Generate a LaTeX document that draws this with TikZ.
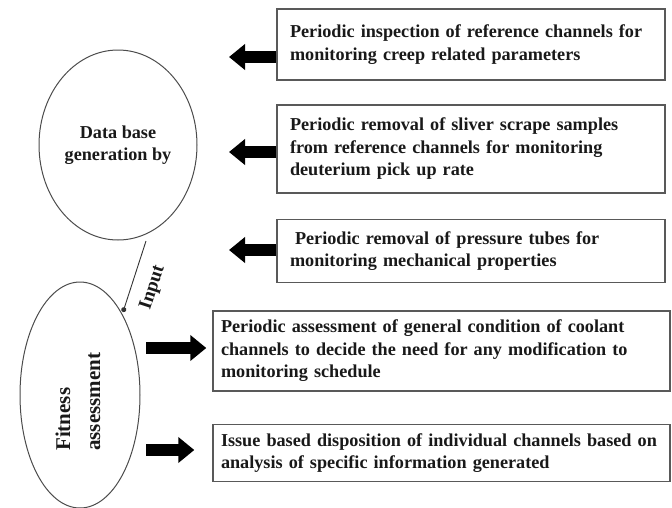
\documentclass[tikz,border=0pt]{standalone}
\usepackage{fontspec}
\setmainfont{Liberation Serif}
\usetikzlibrary{arrows.meta,shapes.geometric}
\begin{document}
\begin{tikzpicture}[x=1pt,y=-1pt,
  txt/.style={font=\fontsize{18.2}{22.5}\selectfont\bfseries, text=black!90},
  box/.style={txt, rectangle, draw=black!65, line width=1.4pt, align=left,
    inner ysep=0pt, anchor=center},
  ell/.style={ellipse, draw=black!70, line width=1pt, inner sep=0pt},
  blockarrow/.style={line width=12pt, black, -{Triangle[length=16pt,width=25pt]}},
  inputline/.style={line width=0.9pt, black!80, -{Circle[length=5pt]}}
]
\useasboundingbox (0,0) rectangle (672,507);

% ellipses
\node[ell, txt, align=center, minimum width=158pt, minimum height=190pt] (db) at (118,145) {Data base\\generation by};
\node[ell, minimum width=120pt, minimum height=226pt] (fa) at (80,395) {};
\node[rotate=90, align=left, anchor=west, inner sep=0pt,
      font=\fontsize{21}{30}\selectfont\bfseries, text=black!90] (fat) at (78,451) {Fitness\\assessment};

% boxes
\node[box, text width=362pt, inner xsep=13pt, minimum height=71pt] (b1) at (471,44.5)
  {Periodic inspection of reference channels for\\monitoring creep related parameters};
\node[box, text width=362pt, inner xsep=13pt, minimum height=88pt] (b2) at (471,149)
  {Periodic removal of sliver scrape samples\\from reference channels for monitoring\\deuterium pick up rate};
\node[box, text width=362pt, inner xsep=13pt, minimum height=63pt] (b3) at (471,251)
  {\hspace*{5pt}Periodic removal of pressure tubes for\\monitoring mechanical properties};
\node[box, text width=441pt, inner xsep=8pt, minimum height=80pt] (b4) at (441.5,351)
  {Periodic assessment of general condition of coolant\\channels to decide the need for any modification to\\monitoring schedule};
\node[box, text width=441pt, inner xsep=8pt, minimum height=57pt] (b5) at (441.5,453)
  {Issue based disposition of individual channels based on\\analysis of specific information generated};

% left-pointing block arrows (boxes -> data base)
\coordinate (t1) at (229,57);
\coordinate (t2) at (229,152);
\coordinate (t3) at (229,250);
\draw[blockarrow] (b1.west |- t1) -- (t1);
\draw[blockarrow] (b2.west |- t2) -- (t2);
\draw[blockarrow] (b3.west |- t3) -- (t3);

% right-pointing block arrows (fitness -> boxes)
\coordinate (s4) at (146,348);
\coordinate (s5) at (146,450);
\draw[blockarrow] (s4) -- ([xshift=-6pt]b4.west |- s4);
\draw[blockarrow] (s5) -- ([xshift=-18pt]b5.west |- s5);

% input connector
\coordinate (in1) at (146,241);
\coordinate (in2) at (123,312);
\draw[inputline] (in1) -- (in2);
\node[rotate=72, inner sep=0pt, font=\fontsize{19}{21}\selectfont\bfseries, text=black!90] (inp) at (153,288) {Input};
\end{tikzpicture}
\end{document}
